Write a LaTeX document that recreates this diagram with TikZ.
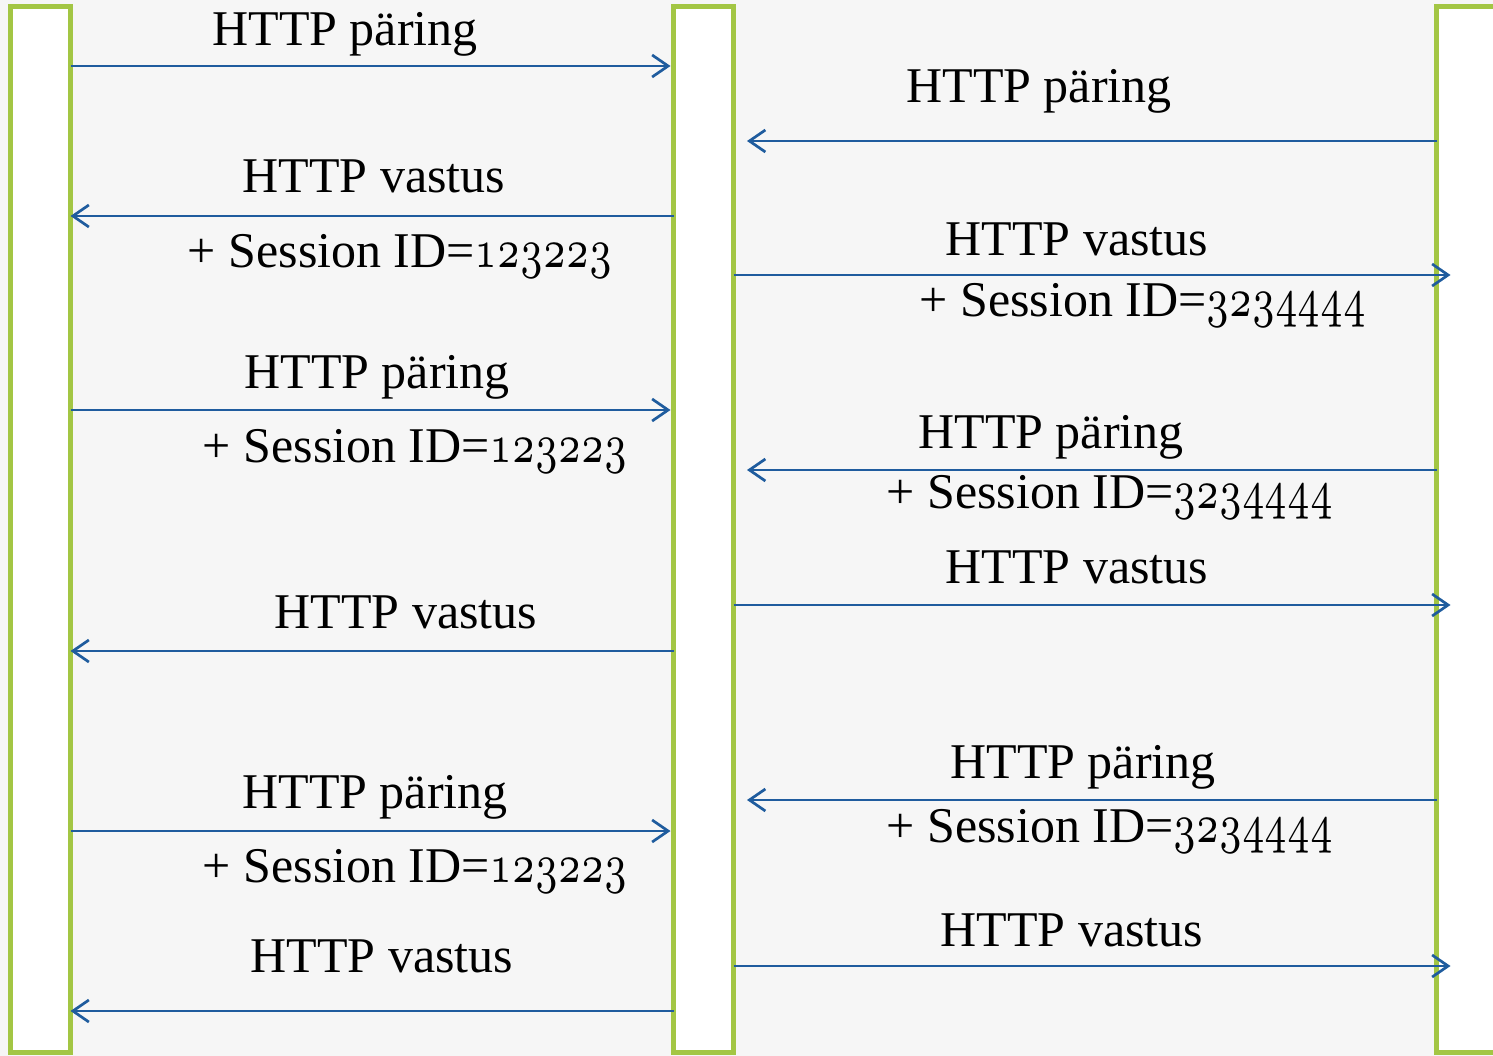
\documentclass[tikz,border=0pt]{standalone}
\usepackage{fontspec}
\usepackage{graphicx}
\setmainfont{Liberation Serif}
\usetikzlibrary{arrows.meta}
% old-style figures for the session numbers
\font\osfdigits=cmmi7 at 55pt
\newcommand{\sid}[1]{+ Session ID=\scalebox{0.71}[1]{\osfdigits #1}}
\definecolor{lanegreen}{HTML}{A3C644}
\definecolor{msgblue}{HTML}{1F5C9E}
\definecolor{paper}{HTML}{F6F6F6}

\begin{document}
\begin{tikzpicture}[x=1pt,y=-1pt,
  lane/.style={draw=lanegreen, line width=5pt, fill=white, minimum width=60pt,
               minimum height=1046pt, inner sep=0pt, outer sep=0pt},
  msg/.style={draw=msgblue, line width=2.7pt, -{Straight Barb[length=16pt,width=22pt]}},
  lbl/.style={anchor=base, inner sep=0pt, font=\fontsize{50}{60}\selectfont}]

\useasboundingbox (0,0) rectangle (1493,1056);
\clip (0,0) rectangle (1493,1056);
\fill[paper] (0,0) rectangle (1493,1056);

% the three participants
\node[lane] (L) at (40.5,529.5) {};
\node[lane] (M) at (703.5,529.5) {};
\node[lane, minimum width=100pt] (R) at (1486.5,529.5) {};

% message rows, left pair
\coordinate (a1) at (0,66);
\coordinate (a2) at (0,216);
\coordinate (a3) at (0,410);
\coordinate (a4) at (0,651);
\coordinate (a5) at (0,831);
\coordinate (a6) at (0,1011);
% message rows, right pair
\coordinate (b1) at (0,141);
\coordinate (b2) at (0,275);
\coordinate (b3) at (0,470);
\coordinate (b4) at (0,605);
\coordinate (b5) at (0,800);
\coordinate (b6) at (0,966);

% left exchange
\draw[msg, shorten >=3pt] (L.east |- a1) -- (M.west |- a1);
\draw[msg] (M.west |- a2) -- (L.east |- a2);
\draw[msg, shorten >=3pt] (L.east |- a3) -- (M.west |- a3);
\draw[msg] (M.west |- a4) -- (L.east |- a4);
\draw[msg, shorten >=3pt] (L.east |- a5) -- (M.west |- a5);
\draw[msg] (M.west |- a6) -- (L.east |- a6);

% right exchange
\draw[msg, shorten >=13.5pt] (R.west |- b1) -- (M.east |- b1);
\draw[msg, shorten >=-14pt] (M.east |- b2) -- (R.west |- b2);
\draw[msg, shorten >=13.5pt] (R.west |- b3) -- (M.east |- b3);
\draw[msg, shorten >=-14pt] (M.east |- b4) -- (R.west |- b4);
\draw[msg, shorten >=13.5pt] (R.west |- b5) -- (M.east |- b5);
\draw[msg, shorten >=-14pt] (M.east |- b6) -- (R.west |- b6);

% labels, left exchange
\node[lbl] (ta1) at (345,46) {HTTP päring};
\node[lbl] (ta2) at (374,193) {HTTP vastus};
\node[lbl] (sa2) at (400,268) {\sid{123223}};
\node[lbl] (ta3) at (377,388) {HTTP päring};
\node[lbl] (sa3) at (415,462) {\sid{123223}};
\node[lbl] (ta4) at (406,628) {HTTP vastus};
\node[lbl] (ta5) at (375,808) {HTTP päring};
\node[lbl] (sa5) at (415,882) {\sid{123223}};
\node[lbl] (ta6) at (382,972) {HTTP vastus};

% labels, right exchange
\node[lbl] (tb1) at (1039,103) {HTTP päring};
\node[lbl] (tb2) at (1077,256) {HTTP vastus};
\node[lbl] (sb2) at (1143,317) {\sid{3234444}};
\node[lbl] (tb3) at (1051,448) {HTTP päring};
\node[lbl] (sb3) at (1110,508) {\sid{3234444}};
\node[lbl] (tb4) at (1077,583) {HTTP vastus};
\node[lbl] (tb5) at (1083,778) {HTTP päring};
\node[lbl] (sb5) at (1110,842) {\sid{3234444}};
\node[lbl] (tb6) at (1072,946) {HTTP vastus};
\end{tikzpicture}
\end{document}
